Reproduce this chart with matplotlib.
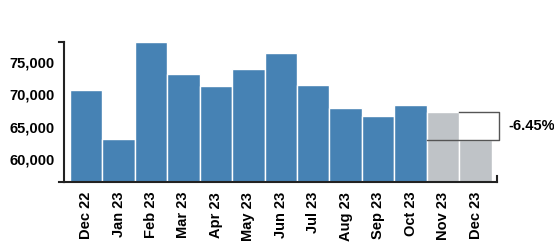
import matplotlib.pyplot as plt
from matplotlib.ticker import FuncFormatter

plt.rcParams['font.family'] = ['Liberation Sans', 'DejaVu Sans']

mesi = ["Dec 22", "Jan 23", "Feb 23", "Mar 23", "Apr 23", "May 23", "Jun 23",
        "Jul 23", "Aug 23", "Sep 23", "Oct 23", "Nov 23", "Dec 23"]
valori = [70700, 63100, 78000, 73100, 71300, 73900, 76300,
          71400, 67900, 66600, 68300, 67300, 62960]
previsione = [False] * 11 + [True, True]
variazione = "-6.45%"

blu = "#4682B4"
grigio = "#BFC3C7"

fig = plt.figure(figsize=(5.54, 2.46), dpi=100)
ax = fig.add_axes([0.1155, 0.26, 0.7815, 0.569])

x = list(range(len(mesi)))
colori = [grigio if p else blu for p in previsione]
ax.bar(x, valori, width=1.0, color=colori, edgecolor="white", linewidth=1.0, zorder=2)

ax.set_xlim(-0.68, 12.66)
ax.set_ylim(56500, 78000)
ax.set_yticks([60000, 65000, 70000, 75000])
ax.yaxis.set_major_formatter(FuncFormatter(lambda v, p: f"{int(v):,}"))
ax.tick_params(axis="y", length=0, pad=7, labelsize=10.5)
ax.tick_params(axis="x", length=0, pad=7, labelsize=10.5)
ax.set_xticks(x)
ax.set_xticklabels(mesi, rotation=90)
for t in ax.get_xticklabels() + ax.get_yticklabels():
    t.set_fontweight("bold")

for s in ["top", "right"]:
    ax.spines[s].set_visible(False)
for s in ["left", "bottom"]:
    ax.spines[s].set_linewidth(1.5)
    ax.spines[s].set_color("#222222")

# piccoli terminali agli estremi degli assi
ax.plot([0, -0.012], [1, 1], transform=ax.transAxes, color="#222222", lw=1.5, clip_on=False)
ax.plot([1, 1], [0, 0.04], transform=ax.transAxes, color="#222222", lw=1.5, clip_on=False)
ax.plot([0, -0.012], [0, 0], transform=ax.transAxes, color="#222222", lw=1.5, clip_on=False)

# parentesi della variazione
xr = 12.72
ax.plot([11.5, xr, xr, 10.5], [valori[11], valori[11], valori[12], valori[12]],
        color="#555555", lw=1.0, clip_on=False, zorder=3)
ax.text(13.0, (valori[11] + valori[12]) / 2, variazione, fontsize=10.5,
        fontweight="bold", va="center", ha="left", clip_on=False)

fig.savefig("out.png", dpi=100)
